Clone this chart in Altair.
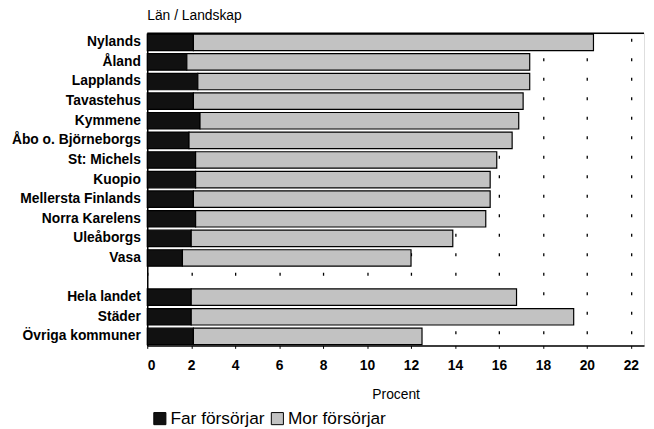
import altair as alt
import pandas as pd

# Categories (top to bottom), blank row separates the two groups
lan = ["Nylands", "Åland", "Lapplands", "Tavastehus", "Kymmene",
       "Åbo o. Björneborgs", "St: Michels", "Kuopio", "Mellersta Finlands",
       "Norra Karelens", "Uleåborgs", "Vasa",
       "Hela landet", "Städer", "Övriga kommuner"]
# Series values (percent)
far = [2.1, 1.8, 2.3, 2.1, 2.4, 1.9, 2.2, 2.2, 2.1, 2.2, 2.0, 1.6, 2.0, 2.0, 2.1]
mor = [18.2, 15.6, 15.1, 15.0, 14.5, 14.7, 13.7, 13.4, 13.5, 13.2, 11.9, 10.4, 14.8, 17.4, 10.4]
series = ["Far försörjar", "Mor försörjar"]
ticks = list(range(0, 23, 2))

y_order = lan[:12] + [" "] + lan[12:]

rows = []
for i, name in enumerate(lan):
    rows.append({"Län": name, "Typ": series[0], "Procent": far[i], "ord": 0})
    rows.append({"Län": name, "Typ": series[1], "Procent": mor[i], "ord": 1})
df = pd.DataFrame(rows)

W, H = 503, 316
FONT = "Liberation Sans"

bars = alt.Chart(df).mark_bar(stroke="black", strokeWidth=1.2).encode(
    x=alt.X("Procent:Q", stack="zero",
            scale=alt.Scale(domain=[0, 22.6], nice=False, zero=True),
            axis=alt.Axis(values=ticks, title="Procent", format="d",
                          grid=True, gridColor="black", gridDash=[3, 16.75],
                          gridDashOffset=8,
                          gridWidth=1.3, gridOpacity=1,
                          domainColor="black", domainWidth=1.5,
                          tickColor="black", tickSize=3,
                          labelFont=FONT, labelFontSize=14, labelFontWeight="bold",
                          labelColor="black", labelPadding=10,
                          titleFont=FONT, titleFontSize=14, titleFontWeight="normal",
                          titleColor="black", titlePadding=16)),
    y=alt.Y("Län:N", sort=y_order,
            scale=alt.Scale(domain=y_order, paddingInner=0.16, paddingOuter=0.04),
            axis=alt.Axis(title=None, ticks=False, domain=True, domainColor="black",
                          domainWidth=1.5, labelFont=FONT, labelFontSize=14,
                          labelFontWeight="bold", labelColor="black", labelPadding=7)),
    color=alt.Color("Typ:N",
                    scale=alt.Scale(domain=series, range=["#111111", "#c2c2c2"]),
                    legend=alt.Legend(title=None, orient="none", legendX=4, legendY=381,
                                      direction="horizontal", symbolType="square",
                                      symbolSize=150, symbolStrokeColor="black",
                                      symbolStrokeWidth=1, symbolOpacity=1,
                                      labelFont=FONT, labelFontSize=17.5,
                                      labelColor="black", labelOffset=2,
                                      columnPadding=4)),
    order=alt.Order("ord:Q"),
)

top_line = alt.Chart(pd.DataFrame({"a": [0]})).mark_rule(
    color="black", strokeWidth=1.5
).encode(y=alt.value(0), x=alt.value(0), x2=alt.value(W))

chart = alt.layer(bars, top_line).properties(
    width=W, height=H,
    title=alt.TitleParams("Län / Landskap", anchor="start", frame="group", font=FONT,
                          fontSize=14, fontWeight="normal", color="black", offset=10),
    autosize=alt.AutoSizeParams(type="none"),
    padding={"left": 141, "top": 23, "right": 2, "bottom": 82},
).configure_view(stroke=None).configure(background="white")

chart.save("out.html", embed_options={"renderer": "svg", "actions": False})
